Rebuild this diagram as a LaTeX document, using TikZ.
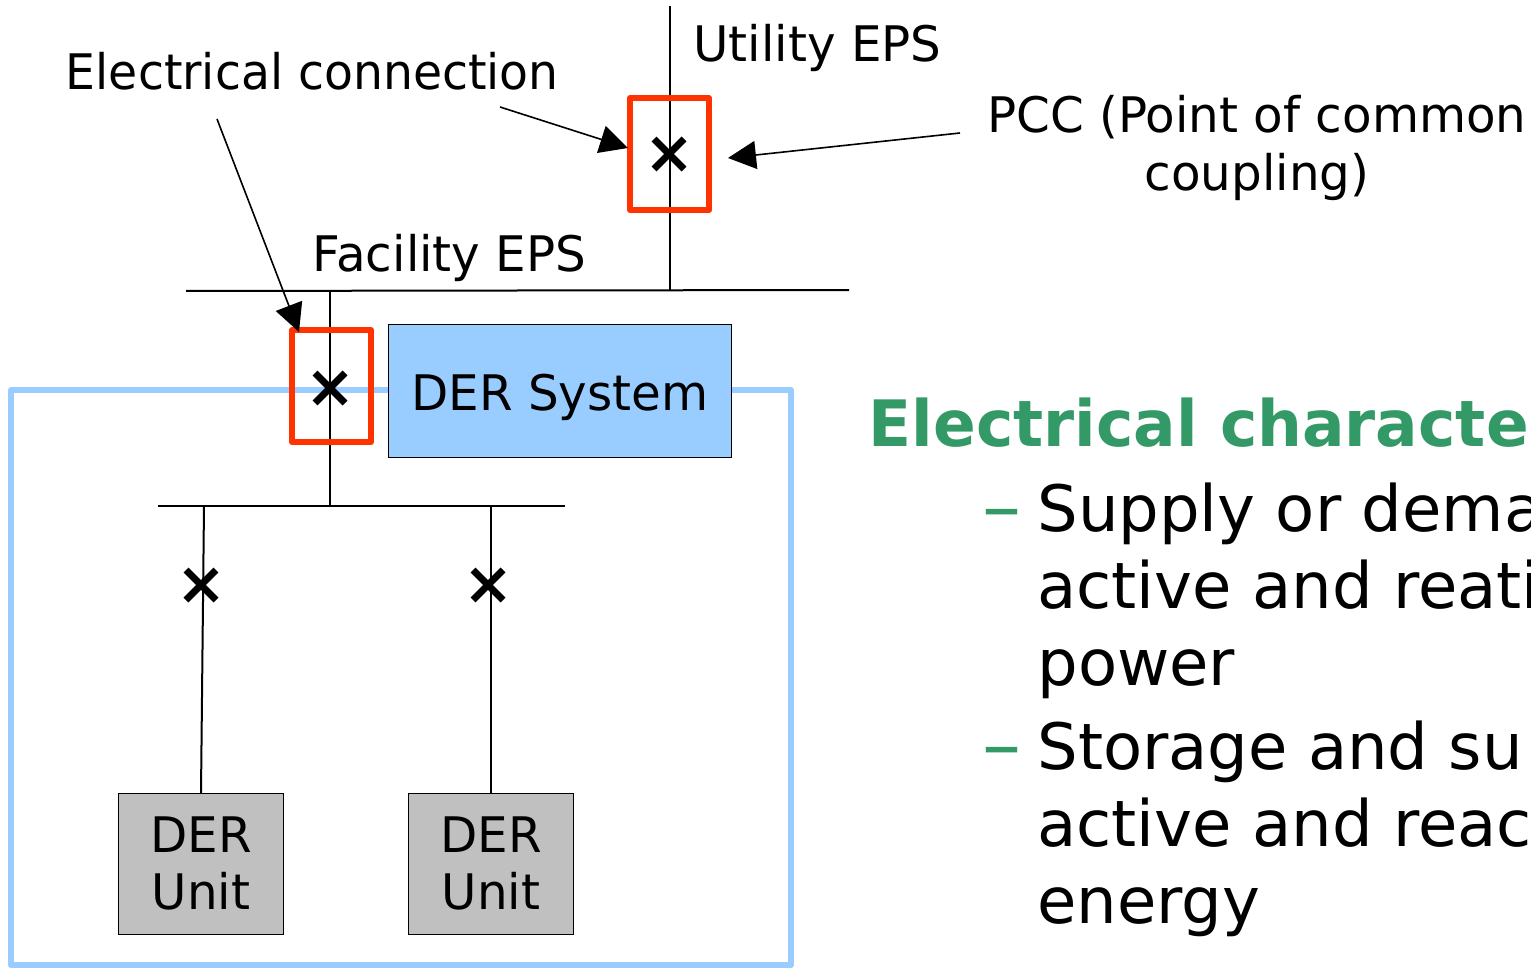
\documentclass[tikz,border=0pt]{standalone}
\usepackage{fontspec}
\setmainfont{DejaVu Sans}
\newfontfamily\labfont[FakeStretch=0.987]{DejaVu Sans}
\newfontfamily\conffont[FakeStretch=0.965]{DejaVu Sans}
\newfontfamily\headfont[FakeStretch=0.985]{DejaVu Sans Bold}
\usetikzlibrary{arrows.meta}
\definecolor{framecol}{HTML}{99CCFF}
\definecolor{redcol}{HTML}{FF3300}
\definecolor{greencol}{HTML}{339966}
\definecolor{graycol}{HTML}{C0C0C0}
\tikzset{
 x=0.5pt,y=-0.5pt,
 wire/.style={draw=black,line width=1pt},
 lead/.style={draw=black,line width=0.8pt,-{Triangle[length=14pt,width=14pt]}},
 redbox/.style={draw=redcol,line width=3pt,line join=round,fill=none},
 bluefr/.style={draw=framecol,line width=3pt,line join=round},
 lab/.style={inner sep=0pt,font=\labfont\fontsize{24.5}{29}\selectfont,align=center,text=black},
 unit/.style={draw=black,line width=0.7pt,fill=graycol,inner sep=0pt,minimum width=82.5pt,minimum height=70.5pt,align=center,font=\labfont\fontsize{24.5}{28.5}\selectfont},
 dersys/.style={draw=black,line width=0.7pt,fill=framecol,inner sep=0pt,minimum width=171.5pt,minimum height=66.5pt},
 head/.style={inner sep=0pt,anchor=base west,font=\headfont\fontsize{32}{38}\selectfont,text=greencol},
 body/.style={inner sep=0pt,anchor=base west,font=\fontsize{32}{38}\selectfont},
 dashm/.style={inner sep=0pt,anchor=base west,font=\fontsize{39}{44}\selectfont,text=greencol},
 xmark/.style={line width=3.4pt,draw=black},
}
\newcommand{\crossat}[2]{\draw[xmark] (#1-15,#2-15) -- (#1+15,#2+15) (#1-15,#2+15) -- (#1+15,#2-15);}
\begin{document}
\begin{tikzpicture}
\useasboundingbox (0,0) rectangle (1531,968);
\clip (0,0) rectangle (1531,968);
\draw[bluefr] (11,390) rectangle (791,965);
\node[lab,anchor=base west] (utility) at (693,62) {Utility EPS};
\node[lab,anchor=base west,font=\conffont\fontsize{24.5}{29}\selectfont] (elec) at (65.5,90) {Electrical connection};
\node[lab,anchor=base] (pcc) at (1257,133) {PCC (Point of common};
\node[lab,anchor=base] (coupl) at (1257,191) {coupling)};
\node[lab,anchor=base west] (fac) at (312.5,271) {Facility EPS};
\coordinate (utop) at (670,6);
\coordinate (ubus) at (670,290);
\coordinate (busl) at (186,291);
\coordinate (busr) at (849,290);
\draw[wire] (utop) -- (ubus);
\draw[wire] (busl) -- (busr);
\coordinate (ftop) at (330,291);
\coordinate (fbot) at (330,506);
\draw[wire] (ftop) -- (fbot);
\coordinate (b2l) at (158,506);
\coordinate (b2r) at (565,506);
\draw[wire] (b2l) -- (b2r);
\node[dersys] (der) at (560,391) {};
\node[lab,anchor=base] (dertxt) at (560,410.5) {DER System};
\draw[redbox] (630,98) rectangle (709,210);
\draw[redbox] (292,330) rectangle (371,442);
\node[unit] (u1) at (201,864) {\raisebox{1pt}{DER}\\\raisebox{1pt}{Unit}};
\node[unit] (u2) at (491,864) {\raisebox{1pt}{DER}\\\raisebox{1pt}{Unit}};
\coordinate (t1) at (204,506);
\coordinate (t2) at (491,506);
\draw[wire] (t1) -- (u1.north);
\draw[wire] (t2) -- (u2.north);
\crossat{669}{154}
\crossat{330}{388}
\crossat{201}{585}
\crossat{488}{585}
\coordinate (a1) at (500,107);
\coordinate (a1e) at (628,148);
\coordinate (a2) at (217,119);
\coordinate (a2e) at (299,332);
\coordinate (a3) at (960,133);
\coordinate (a3e) at (728,158);
\draw[lead] (a1) -- (a1e);
\draw[lead] (a2) -- (a2e);
\draw[lead] (a3) -- (a3e);
\node[head] (h) at (868.5,446) {Electrical characte};
\node[dashm] (d1) at (982,533) {–};
\node[body] (l1) at (1037,531) {Supply or dema};
\node[body] (l2) at (1037,608) {active and reati};
\node[body] (l3) at (1037,685) {power};
\node[dashm] (d2) at (982,771) {–};
\node[body] (l4) at (1037,769) {Storage and su};
\node[body] (l5) at (1037,846) {active and reac};
\node[body] (l6) at (1037,923) {energy};
\end{tikzpicture}
\end{document}
